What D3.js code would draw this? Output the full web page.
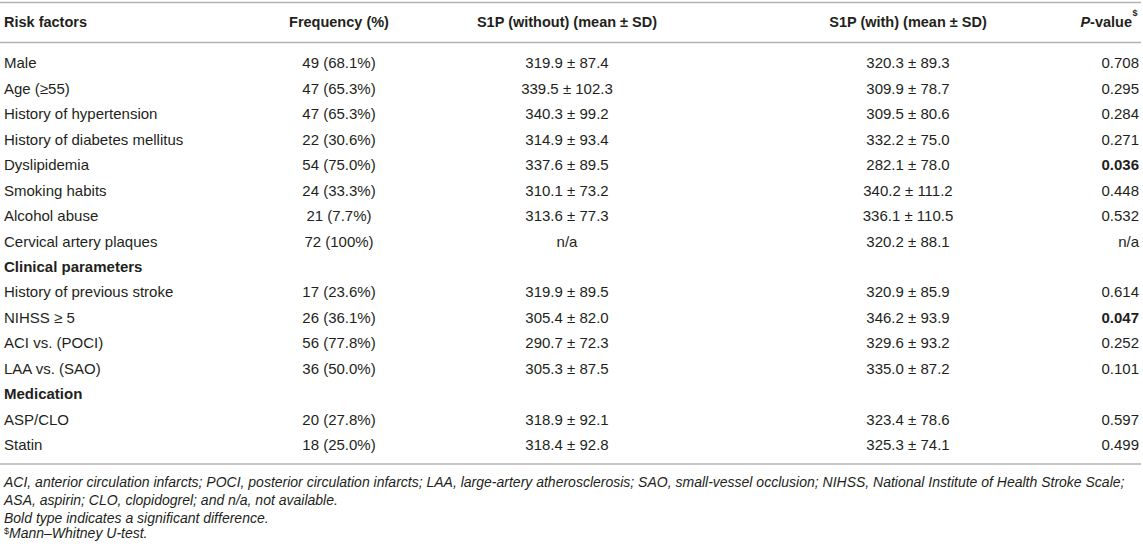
<!DOCTYPE html>
<html>
<head>
<meta charset="utf-8">
<script src="https://cdn.jsdelivr.net/npm/d3@7"></script>
<style>
  body { margin: 0; background: #fff; }
  svg text { font-family: "Liberation Sans", Arial, Helvetica, sans-serif; fill: #231f20; }
</style>
</head>
<body>
<div id="table"></div>
<script>
// table rows
const riskFactors = ["Male", "Age (\u226555)", "History of hypertension", "History of diabetes mellitus",
    "Dyslipidemia", "Smoking habits", "Alcohol abuse", "Cervical artery plaques",
    "Clinical parameters", "History of previous stroke", "NIHSS \u2265 5", "ACI vs. (POCI)",
    "LAA vs. (SAO)", "Medication", "ASP/CLO", "Statin"]
const frequency = ["49 (68.1%)", "47 (65.3%)", "47 (65.3%)", "22 (30.6%)", "54 (75.0%)", "24 (33.3%)",
    "21 (7.7%)", "72 (100%)", "", "17 (23.6%)", "26 (36.1%)", "56 (77.8%)", "36 (50.0%)", "",
    "20 (27.8%)", "18 (25.0%)"]
const s1pWithout = ["319.9 \u00b1 87.4", "339.5 \u00b1 102.3", "340.3 \u00b1 99.2", "314.9 \u00b1 93.4",
    "337.6 \u00b1 89.5", "310.1 \u00b1 73.2", "313.6 \u00b1 77.3", "n/a", "", "319.9 \u00b1 89.5",
    "305.4 \u00b1 82.0", "290.7 \u00b1 72.3", "305.3 \u00b1 87.5", "", "318.9 \u00b1 92.1", "318.4 \u00b1 92.8"]
const s1pWith = ["320.3 \u00b1 89.3", "309.9 \u00b1 78.7", "309.5 \u00b1 80.6", "332.2 \u00b1 75.0",
    "282.1 \u00b1 78.0", "340.2 \u00b1 111.2", "336.1 \u00b1 110.5", "320.2 \u00b1 88.1", "",
    "320.9 \u00b1 85.9", "346.2 \u00b1 93.9", "329.6 \u00b1 93.2", "335.0 \u00b1 87.2", "",
    "323.4 \u00b1 78.6", "325.3 \u00b1 74.1"]
const pValues = ["0.708", "0.295", "0.284", "0.271", "0.036", "0.448", "0.532", "n/a", "",
    "0.614", "0.047", "0.252", "0.101", "", "0.597", "0.499"]
const sectionRows = ["Clinical parameters", "Medication"]
const significant = ["0.036", "0.047"]

const headers = ["Risk factors", "Frequency (%)", "S1P (without) (mean \u00b1 SD)", "S1P (with) (mean \u00b1 SD)", "P-value"]
const footnotes = [
    "ACI, anterior circulation infarcts; POCI, posterior circulation infarcts; LAA, large-artery atherosclerosis; SAO, small-vessel occlusion; NIHSS, National Institute of Health Stroke Scale;",
    "ASA, aspirin; CLO, clopidogrel; and n/a, not available.",
    "Bold type indicates a significant difference.",
    "Mann\u2013Whitney U-test."
]

var width = 1143
var height = 552

const svg = d3.select("#table")
    .append("svg")
    .attr("width", width)
    .attr("height", height)

// row positions
const yScale = d3.scalePoint()
    .domain(d3.range(riskFactors.length))
    .range([63, 445])

// column anchors: x position and alignment
const cols = [
    { x: 4, anchor: "start", values: riskFactors },
    { x: 339, anchor: "middle", values: frequency },
    { x: 567, anchor: "middle", values: s1pWithout },
    { x: 908, anchor: "middle", values: s1pWith },
    { x: 1139, anchor: "end", values: pValues }
]

const fontSize = 15
const ruleColor = "#b3b3b3"

// horizontal rules
svg.selectAll("line.rule")
    .data([2.5, 42.5, 464])
    .enter()
    .append("line")
    .attr("class", "rule")
    .attr("x1", 0)
    .attr("x2", 1141)
    .attr("y1", d => d)
    .attr("y2", d => d)
    .attr("stroke", ruleColor)
    .attr("stroke-width", 1.6)

// header row
const head = svg.append("g")
cols.forEach(function (c, i) {
    var t = head.append("text")
        .attr("x", i == 4 ? c.x - 7 : c.x)
        .attr("y", 22)
        .attr("dy", "0.35em")
        .attr("text-anchor", c.anchor)
        .style("font-size", "14.5px")
        .style("font-weight", "bold")
    if (i == 4) {
        t.append("tspan").style("font-style", "italic").text("P")
        t.append("tspan").text("-value")
        head.append("text")
            .attr("x", c.x - 6.5)
            .attr("y", 16)
            .style("font-size", "9px")
            .style("font-weight", "bold")
            .text("$")
    } else {
        t.text(headers[i])
    }
})

// body cells
cols.forEach(function (c, ci) {
    svg.append("g")
        .selectAll("text")
        .data(c.values)
        .enter()
        .append("text")
        .attr("x", c.x)
        .attr("y", (d, i) => yScale(i))
        .attr("dy", "0.35em")
        .attr("text-anchor", c.anchor)
        .style("font-size", fontSize + "px")
        .style("font-weight", function (d) {
            if (ci == 0 && sectionRows.includes(d)) return "bold"
            if (ci == 4 && significant.includes(d)) return "bold"
            return "normal"
        })
        .text(d => d)
})

// footnotes
const notes = svg.append("g")
    .selectAll("text")
    .data(footnotes)
    .enter()
    .append("text")
    .attr("x", 4)
    .attr("y", (d, i) => 482 + i * 18.2)
    .attr("dy", "0.35em")
    .style("font-size", "14px")

notes.filter((d, i) => i == 3)
    .append("tspan")
    .attr("dy", "-0.3em")
    .style("font-size", "9px")
    .text("$")

notes.append("tspan")
    .attr("dy", (d, i) => i == 3 ? "0.3em" : null)
    .style("font-style", "italic")
    .text(d => d)
</script>
</body>
</html>
